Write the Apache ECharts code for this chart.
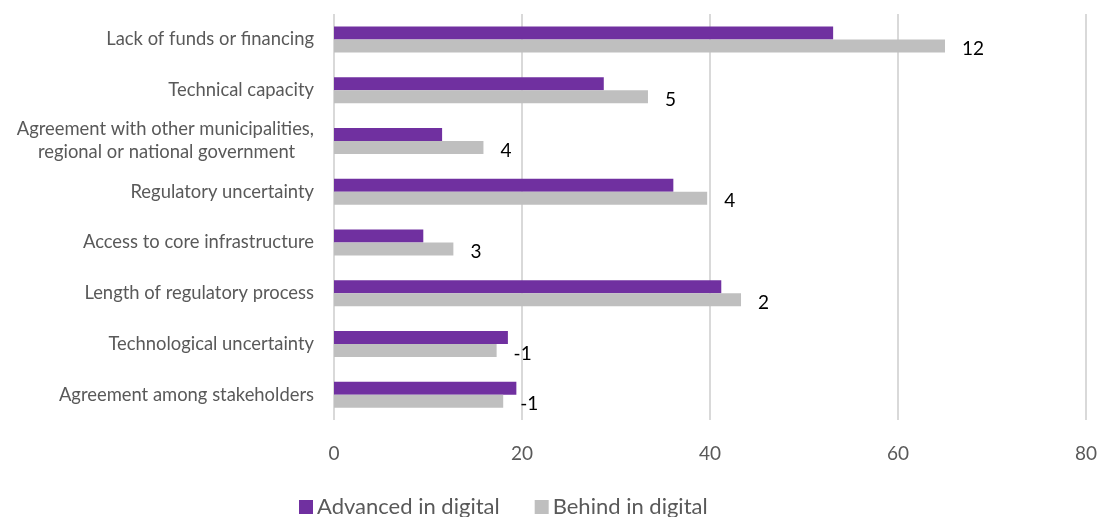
<!DOCTYPE html>
<html>
<head>
<meta charset="utf-8">
<script src="https://cdn.jsdelivr.net/npm/echarts@6/dist/echarts.min.js"></script>
<style>html,body{margin:0;padding:0;background:#fff}#c{width:1108px;height:517px}</style>
</head>
<body>
<div id="c"></div>
<script>
var categories = [
  "Lack of funds or financing",
  "Technical capacity",
  "Agreement with other municipalities,\nregional or national government    ",
  "Regulatory uncertainty",
  "Access to core infrastructure",
  "Length of regulatory process",
  "Technological uncertainty",
  "Agreement among stakeholders"
];
var advanced = [53.1, 28.7, 11.5, 36.1, 9.5, 41.2, 18.5, 19.4];
var behind = [65.0, 33.4, 15.9, 39.7, 12.7, 43.3, 17.3, 18.0];
var diffLabels = ["12", "5", "4", "4", "3", "2", "-1", "-1"];
var xTicks = [0, 20, 40, 60, 80];

var FONT = "Lato, 'Liberation Sans', sans-serif";
var chart = echarts.init(document.getElementById('c'), null, {renderer: 'canvas'});
chart.setOption({
  animation: false,
  textStyle: {fontFamily: FONT},
  grid: {left: 334, right: 22, top: 14, bottom: 97, containLabel: false},
  legend: {
    left: 299, top: 496, padding: 0,
    itemWidth: 14, itemHeight: 14, itemGap: 35,
    icon: 'rect',
    textStyle: {fontSize: 22, color: '#595959', fontFamily: FONT, padding: [0, 0, 0, -1]},
    data: ["Advanced in digital", "Behind in digital"]
  },
  xAxis: {
    type: 'value', min: xTicks[0], max: xTicks[xTicks.length - 1], interval: 20,
    axisLine: {show: false}, axisTick: {show: false},
    splitLine: {show: true, lineStyle: {color: '#D9D9D9', width: 2}},
    axisLabel: {fontSize: 19, color: '#595959', margin: 24, fontFamily: FONT}
  },
  yAxis: {
    type: 'category', inverse: true, data: categories,
    axisLine: {show: false}, axisTick: {show: false},
    axisLabel: {fontSize: 18.4, color: '#595959', margin: 20, fontFamily: FONT, lineHeight: 23}
  },
  series: [
    {
      name: "Advanced in digital", type: 'bar', data: advanced,
      barWidth: 13, barGap: '0%',
      itemStyle: {color: '#7030A0'}
    },
    {
      name: "Behind in digital", type: 'bar', data: behind,
      barWidth: 13, barGap: '0%',
      itemStyle: {color: '#BFBFBF'},
      label: {
        show: true, position: 'right', distance: 17, offset: [0, 3],
        fontSize: 19, color: '#000', fontFamily: FONT,
        formatter: function (p) { return diffLabels[p.dataIndex]; }
      }
    }
  ]
});
</script>
</body>
</html>
